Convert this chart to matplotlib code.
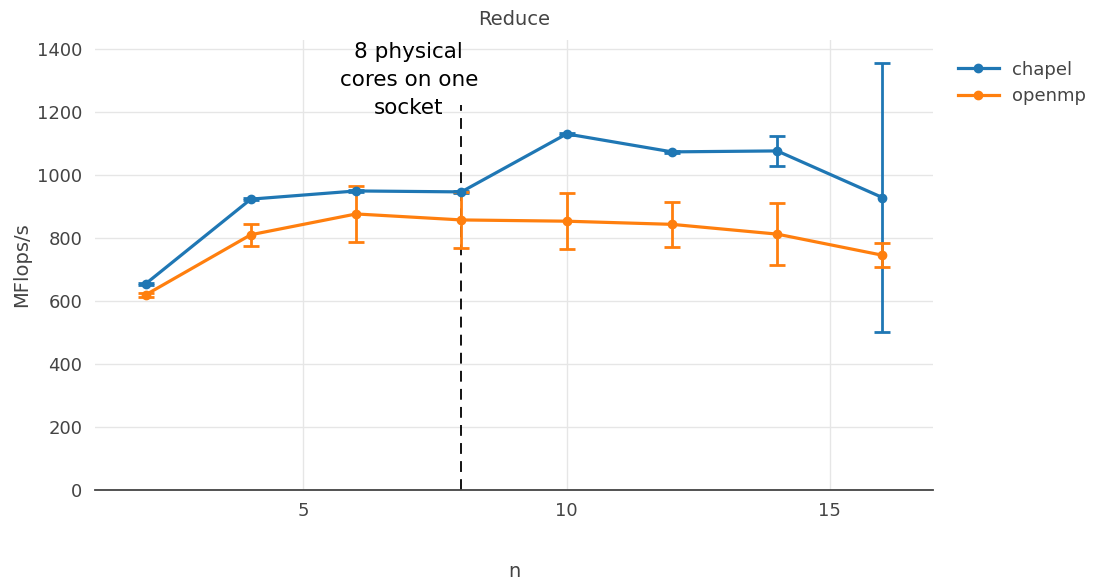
import matplotlib
matplotlib.use("Agg")
import matplotlib.pyplot as plt
from matplotlib.lines import Line2D

# thread counts
n = [2, 4, 6, 8, 10, 12, 14, 16]

# MFlops/s means and error bars
chapel = [654, 923, 949, 946, 1130, 1073, 1076, 928]
chapel_err = [3, 3, 4, 3, 3, 3, 47, 428]
openmp = [619, 810, 876, 857, 853, 843, 812, 745]
openmp_err = [6, 35, 88, 90, 89, 72, 99, 38]

blue = '#1f77b4'
orange = '#ff7f0e'
grey = '#444444'

fig = plt.figure(figsize=(11.06, 5.81), dpi=100)
ax = fig.add_axes([95 / 1106, 91 / 581, 838 / 1106, 450 / 581])

ax.errorbar(n, chapel, yerr=chapel_err, color=blue, lw=2.3, marker='o', ms=6,
            capsize=6, capthick=2, elinewidth=2, zorder=3)
ax.errorbar(n, openmp, yerr=openmp_err, color=orange, lw=2.3, marker='o', ms=6,
            capsize=6, capthick=2, elinewidth=2, zorder=3)

# 8 cores marker line
ax.plot([8, 8], [0, 1222], color='black', lw=1.3, ls=(0, (6, 4)), zorder=2)
ax.text(7.0, 1180, '8 physical\ncores on one\nsocket', ha='center', va='bottom',
        fontsize=15.5, linespacing=1.5, color='black')

ax.set_xlim(1.04, 16.96)
ax.set_ylim(0, 1428)
ax.set_xticks([5, 10, 15])
ax.set_yticks(range(0, 1401, 200))
ax.grid(True, color='#e6e6e6', lw=1)
ax.set_axisbelow(True)
for s in ['top', 'right', 'left']:
    ax.spines[s].set_visible(False)
ax.spines['bottom'].set_color(grey)
ax.spines['bottom'].set_linewidth(1.3)
ax.tick_params(colors=grey, labelsize=13, length=0, pad=9)

ax.set_title('Reduce', color=grey, fontsize=14, pad=11)
ax.set_xlabel('n', color=grey, fontsize=14, labelpad=30)
ax.set_ylabel('MFlops/s', color=grey, fontsize=14, labelpad=4)

handles = [Line2D([], [], color=blue, lw=2.3, marker='o', ms=6),
           Line2D([], [], color=orange, lw=2.3, marker='o', ms=6)]
leg = ax.legend(handles, ['chapel', 'openmp'], loc='upper left',
                bbox_to_anchor=(1.01, 0.99), frameon=False, fontsize=13,
                handlelength=2.3, labelspacing=0.45, handletextpad=0.7)
for t in leg.get_texts():
    t.set_color(grey)

fig.savefig('out.png', dpi=100)
